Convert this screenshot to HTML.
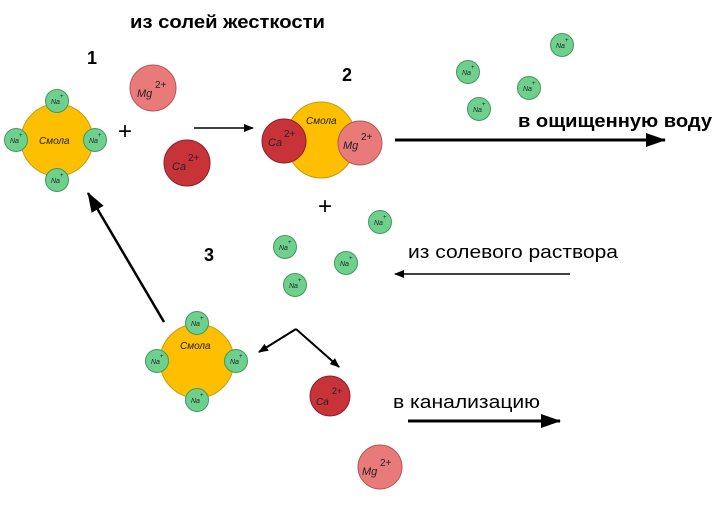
<!DOCTYPE html>
<html><head><meta charset="utf-8"><style>
html,body{margin:0;padding:0;background:#fff}
svg{display:block}
text{font-family:"Liberation Sans",sans-serif}
.ion{font-style:italic;fill:#222}
</style></head><body>
<svg width="728" height="512" viewBox="0 0 728 512" xmlns="http://www.w3.org/2000/svg">
<defs>
<marker id="ah" markerWidth="10" markerHeight="8" refX="9" refY="4" orient="auto" markerUnits="userSpaceOnUse"><path d="M0,0 L10,4 L0,8 z" fill="#000"/></marker>
<marker id="ahb" markerWidth="20" markerHeight="14" refX="19" refY="7" orient="auto" markerUnits="userSpaceOnUse"><path d="M0,0 L20,7 L0,14 z" fill="#000"/></marker>
<g id="na"><circle r="11.5" fill="#6fd08e" stroke="#3f9a5e" stroke-width="1"/><text x="-6" y="3" font-size="7" class="ion">Na</text><text x="3" y="-3" font-size="6" fill="#222">+</text></g>
</defs>

<text x="130" y="28" font-size="18" font-weight="bold" textLength="195" lengthAdjust="spacingAndGlyphs">из солей жесткости</text>
<text x="87" y="64" font-size="18" font-weight="bold">1</text>
<text x="342" y="81" font-size="18" font-weight="bold">2</text>
<text x="204" y="261" font-size="18" font-weight="bold">3</text>

<!-- resin 1 -->
<circle cx="57" cy="140" r="36" fill="#fdbf00" stroke="#c99a10" stroke-width="1"/>
<text x="39" y="144" font-size="10" class="ion">Смола</text>
<use href="#na" x="57" y="101"/><use href="#na" x="16" y="140"/><use href="#na" x="95" y="140"/><use href="#na" x="57" y="180"/>
<text x="118" y="139" font-size="24">+</text>
<circle cx="153" cy="88" r="23" fill="#e97a7a" stroke="#b55" stroke-width="1"/>
<text x="137" y="97" font-size="11" class="ion">Mg</text><text x="155" y="88" font-size="10" fill="#222">2+</text>
<circle cx="187" cy="163" r="23" fill="#c8333a" stroke="#8d2026" stroke-width="1"/>
<text x="172" y="170" font-size="11" class="ion">Ca</text><text x="188" y="161" font-size="10" fill="#222">2+</text>
<line x1="194" y1="128" x2="253" y2="128" stroke="#000" stroke-width="1.5" marker-end="url(#ah)"/>

<!-- resin 2 -->
<ellipse cx="321" cy="140" rx="35" ry="38" fill="#fdbf00" stroke="#c99a10" stroke-width="1"/>
<text x="306" y="124" font-size="10" class="ion">Смола</text>
<circle cx="284" cy="141" r="22" fill="#c8333a" stroke="#8d2026" stroke-width="1"/>
<text x="268" y="146" font-size="11" class="ion">Ca</text><text x="284" y="137" font-size="10" fill="#222">2+</text>
<circle cx="360" cy="143" r="22" fill="#e97a7a" stroke="#b55" stroke-width="1"/>
<text x="343" y="149" font-size="11" class="ion">Mg</text><text x="361" y="140" font-size="10" fill="#222">2+</text>
<line x1="395" y1="140" x2="665" y2="140" stroke="#000" stroke-width="3" marker-end="url(#ahb)"/>
<text x="518" y="127" font-size="18" font-weight="bold" textLength="194" lengthAdjust="spacingAndGlyphs">в ощищенную воду</text>

<use href="#na" x="562" y="45"/><use href="#na" x="468" y="72"/><use href="#na" x="529" y="88"/><use href="#na" x="479" y="109"/>
<text x="318" y="214" font-size="24">+</text>
<use href="#na" x="380" y="222"/><use href="#na" x="285" y="247"/><use href="#na" x="346" y="263"/><use href="#na" x="295" y="285"/>

<text x="408" y="258" font-size="18" textLength="210" lengthAdjust="spacingAndGlyphs">из солевого раствора</text>
<line x1="570" y1="274" x2="395" y2="274" stroke="#000" stroke-width="1.5" marker-end="url(#ah)"/>

<!-- resin 3 -->
<circle cx="197" cy="361" r="37" fill="#fdbf00" stroke="#c99a10" stroke-width="1"/>
<text x="180" y="349" font-size="10" class="ion">Смола</text>
<use href="#na" x="197" y="323"/><use href="#na" x="157" y="361"/><use href="#na" x="236" y="361"/><use href="#na" x="197" y="400"/>
<line x1="164" y1="322" x2="88" y2="193" stroke="#000" stroke-width="2.5" marker-end="url(#ahb)"/>
<line x1="296" y1="329" x2="259" y2="352" stroke="#000" stroke-width="2" marker-end="url(#ah)"/>
<line x1="296" y1="329" x2="339" y2="367" stroke="#000" stroke-width="2" marker-end="url(#ah)"/>

<circle cx="330" cy="396" r="20" fill="#c8333a" stroke="#8d2026" stroke-width="1"/>
<text x="316" y="405" font-size="10" class="ion">Ca</text><text x="332" y="394" font-size="9" fill="#222">2+</text>
<circle cx="380" cy="467" r="22" fill="#e97a7a" stroke="#b55" stroke-width="1"/>
<text x="362" y="475" font-size="11" class="ion">Mg</text><text x="380" y="466" font-size="10" fill="#222">2+</text>

<text x="393" y="408" font-size="18" textLength="147" lengthAdjust="spacingAndGlyphs">в канализацию</text>
<line x1="408" y1="421" x2="560" y2="421" stroke="#000" stroke-width="3" marker-end="url(#ahb)"/>
</svg>
</body></html>
